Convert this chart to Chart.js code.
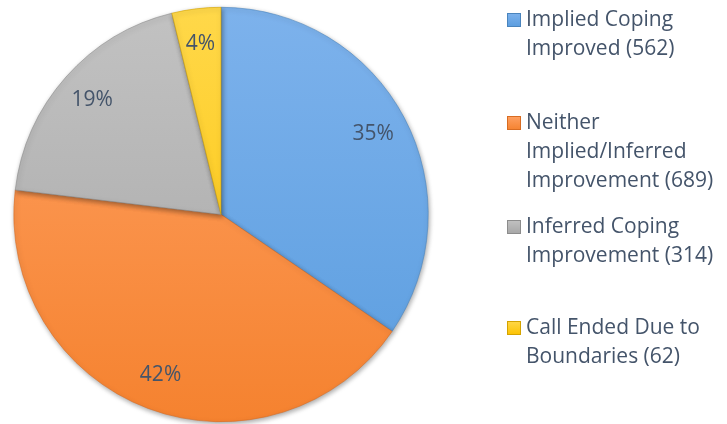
<!DOCTYPE html>
<html lang="en">
<head>
<meta charset="UTF-8">
<title>Coping outcomes</title>
<script src="https://cdn.jsdelivr.net/npm/chart.js@4"></script>
<style>
  * { margin: 0; padding: 0; box-sizing: border-box; }
  html, body { width: 727px; height: 424px; background: #fff; overflow: hidden; }
</style>
</head>
<body>
<canvas id="pie" width="727" height="424"></canvas>
<script>
// ---------- data ----------
const categories = ['Implied Coping Improved', 'Neither Implied/Inferred Improvement', 'Inferred Coping Improvement', 'Call Ended Due to Boundaries'];
const counts = [562, 689, 314, 62];
// legend text, one array per entry (wrapped lines)
const legendLines = [
  ['Implied Coping', 'Improved (562)'],
  ['Neither', 'Implied/Inferred', 'Improvement (689)'],
  ['Inferred Coping', 'Improvement (314)'],
  ['Call Ended Due to', 'Boundaries (62)'],
];
const legendTop = [20, 123, 227, 328];

// top / bottom gradient stops per slice
const gradTop = ['#7db2ec', '#ffa163', '#c2c2c2', '#ffd84a'];
const gradBot = ['#5a9ddf', '#f5822f', '#a6a6a6', '#fcc200'];
const edge    = ['#4a84bd', '#d86c22', '#8c8c8c', '#d4a300'];

const TEXT = '#44546a';
const FONT = '"Open Sans", sans-serif';

const total = counts.reduce((a, b) => a + b, 0);

function sliceFill(ctx) {
  const i = ctx.dataIndex;
  const area = ctx.chart.chartArea;
  if (i === undefined || !area) return gradBot[i || 0];
  const g = ctx.chart.ctx.createLinearGradient(0, area.top, 0, area.bottom);
  g.addColorStop(0, gradTop[i]);
  g.addColorStop(1, gradBot[i]);
  return g;
}

// soft drop shadow under each wedge
const shadow = {
  id: 'shadow',
  beforeDatasetDraw(chart) {
    const c = chart.ctx;
    c.save();
    c.shadowColor = 'rgba(0,0,0,0.35)';
    c.shadowBlur = 5;
    c.shadowOffsetX = 1;
    c.shadowOffsetY = 2;
  },
  afterDatasetDraw(chart) { chart.ctx.restore(); }
};

// percentage labels inside the wedges
const pctLabels = {
  id: 'pctLabels',
  afterDatasetsDraw(chart) {
    const c = chart.ctx;
    const meta = chart.getDatasetMeta(0);
    c.save();
    c.font = '21px ' + FONT;
    c.fillStyle = TEXT;
    c.textAlign = 'center';
    c.textBaseline = 'middle';
    meta.data.forEach((arc, i) => {
      const mid = (arc.startAngle + arc.endAngle) / 2;
      const r = arc.outerRadius * 0.83;
      const x = arc.x + Math.cos(mid) * r;
      const y = arc.y + Math.sin(mid) * r;
      c.fillText(Math.round(counts[i] / total * 100) + '%', x, y);
    });
    c.restore();
  }
};

// legend on the right, wrapped text
const sideLegend = {
  id: 'sideLegend',
  afterDraw(chart) {
    const c = chart.ctx;
    c.save();
    c.font = '21px ' + FONT;
    c.textBaseline = 'middle';
    legendLines.forEach((lines, i) => {
      const y0 = legendTop[i];
      const g = c.createLinearGradient(0, y0 - 7, 0, y0 + 7);
      g.addColorStop(0, gradTop[i]);
      g.addColorStop(1, gradBot[i]);
      c.fillStyle = g;
      c.fillRect(507, y0 - 7, 14, 14);
      c.strokeStyle = edge[i];
      c.lineWidth = 1;
      c.strokeRect(507.5, y0 - 6.5, 13, 13);
      c.fillStyle = TEXT;
      lines.forEach((t, k) => c.fillText(t, 526, y0 + k * 29));
    });
    c.restore();
  }
};

new Chart(document.getElementById('pie'), {
  type: 'pie',
  data: {
    labels: categories,
    datasets: [{
      data: counts,
      backgroundColor: sliceFill,
      borderColor: edge,
      borderWidth: 0.6,
    }]
  },
  options: {
    responsive: false,
    animation: false,
    layout: { padding: { left: 13, right: 298, top: 7, bottom: 2 } },
    plugins: {
      legend: { display: false },
      tooltip: { enabled: false }
    }
  },
  plugins: [shadow, pctLabels, sideLegend]
});
</script>
</body>
</html>
